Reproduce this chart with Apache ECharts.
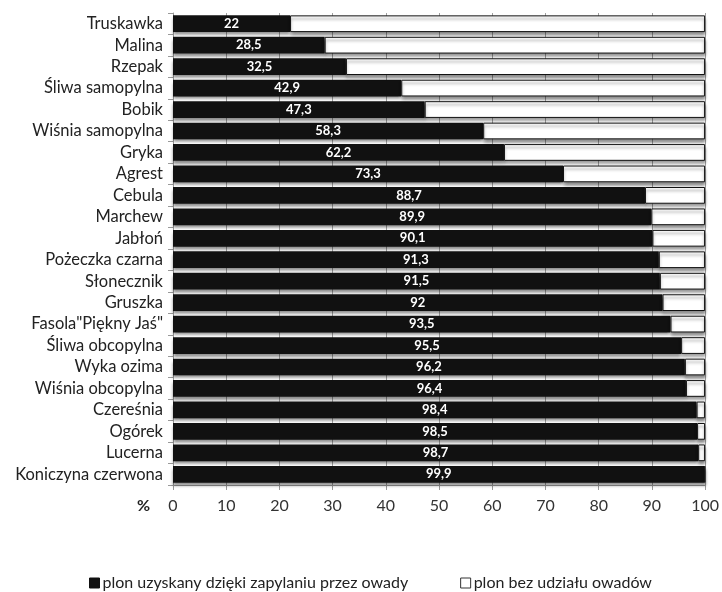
<!DOCTYPE html>
<html>
<head>
<meta charset="utf-8">
<script src="https://cdn.jsdelivr.net/npm/echarts@6/dist/echarts.min.js"></script>
<style>html,body{margin:0;padding:0;background:#fff}#c{width:722px;height:592px}</style>
</head>
<body>
<div id="c"></div>
<script>
const categories = ["Truskawka","Malina","Rzepak","Śliwa samopylna","Bobik","Wiśnia samopylna","Gryka","Agrest","Cebula","Marchew","Jabłoń","Pożeczka czarna","Słonecznik","Gruszka","Fasola\"Piękny Jaś\"","Śliwa obcopylna","Wyka ozima","Wiśnia obcopylna","Czereśnia","Ogórek","Lucerna","Koniczyna czerwona"];
const insectValues = [22,28.5,32.5,42.9,47.3,58.3,62.2,73.3,88.7,89.9,90.1,91.3,91.5,92,93.5,95.5,96.2,96.4,98.4,98.5,98.7,99.9];
const noInsectValues = [78,71.5,67.5,57.1,52.7,41.7,37.8,26.7,11.3,10.1,9.9,8.7,8.5,8,6.5,4.5,3.8,3.6,1.6,1.5,1.3,0.1];
const xTicks = [0,10,20,30,40,50,60,70,80,90,100];
const seriesNames = ["plon uzyskany dzięki zapylaniu przez owady","plon bez udziału owadów"];

const font = "Lato, 'Open Sans', sans-serif";
const chart = echarts.init(document.getElementById('c'), null, {renderer:'canvas'});
chart.setOption({
  animation:false,
  backgroundColor:'#fff',
  textStyle:{fontFamily:font},
  grid:{left:173,right:14,top:13,bottom:107,containLabel:false},
  legend:{
    top:575,left:89,padding:0,
    icon:'rect',itemWidth:10,itemHeight:10,itemGap:52,
    textStyle:{fontSize:16,color:'#222',fontFamily:font,padding:[0,0,0,-2]},
    data:[
      {name:seriesNames[0],itemStyle:{color:'#111',borderColor:'#111',borderWidth:1,shadowBlur:0,shadowOffsetY:0}},
      {name:seriesNames[1],itemStyle:{color:'#fff',borderColor:'#333',borderWidth:1,shadowBlur:0,shadowOffsetY:0}}
    ]
  },
  xAxis:{
    type:'value',min:xTicks[0],max:xTicks[xTicks.length-1],interval:10,
    axisLine:{show:true,lineStyle:{color:'#999'}},
    axisTick:{show:true,length:5,lineStyle:{color:'#999'}},
    axisLabel:{fontSize:16,color:'#333',margin:13,fontFamily:font},
    splitLine:{show:true,lineStyle:{color:'#a0a0a0',width:1}}
  },
  yAxis:{
    type:'category',data:categories,inverse:true,
    axisLine:{show:true,lineStyle:{color:'#999'}},
    axisTick:{show:true,length:5,alignWithLabel:false,lineStyle:{color:'#999'}},
    axisLabel:{fontSize:16.5,color:'#222',margin:10,fontFamily:font,interval:0}
  },
  graphic:[{type:'text',left:137,top:498,style:{text:'%',fontSize:16,fontWeight:'bold',fill:'#222',fontFamily:font}}],
  series:[
    {
      name:seriesNames[0],type:'bar',stack:'s',data:insectValues,barWidth:'78%',
      itemStyle:{color:'#111',shadowColor:'rgba(0,0,0,0.45)',shadowBlur:3,shadowOffsetY:3},
      label:{show:true,position:'inside',color:'#fff',fontWeight:'bold',fontSize:13,fontFamily:font,
        formatter:p=>String(p.value).replace('.',',')}
    },
    {
      name:seriesNames[1],type:'bar',stack:'s',data:noInsectValues,barWidth:'78%',
      itemStyle:{color:'#fff',borderColor:'#111',borderWidth:1,shadowColor:'rgba(0,0,0,0.45)',shadowBlur:3,shadowOffsetY:3}
    }
  ]
});
</script>
</body>
</html>
